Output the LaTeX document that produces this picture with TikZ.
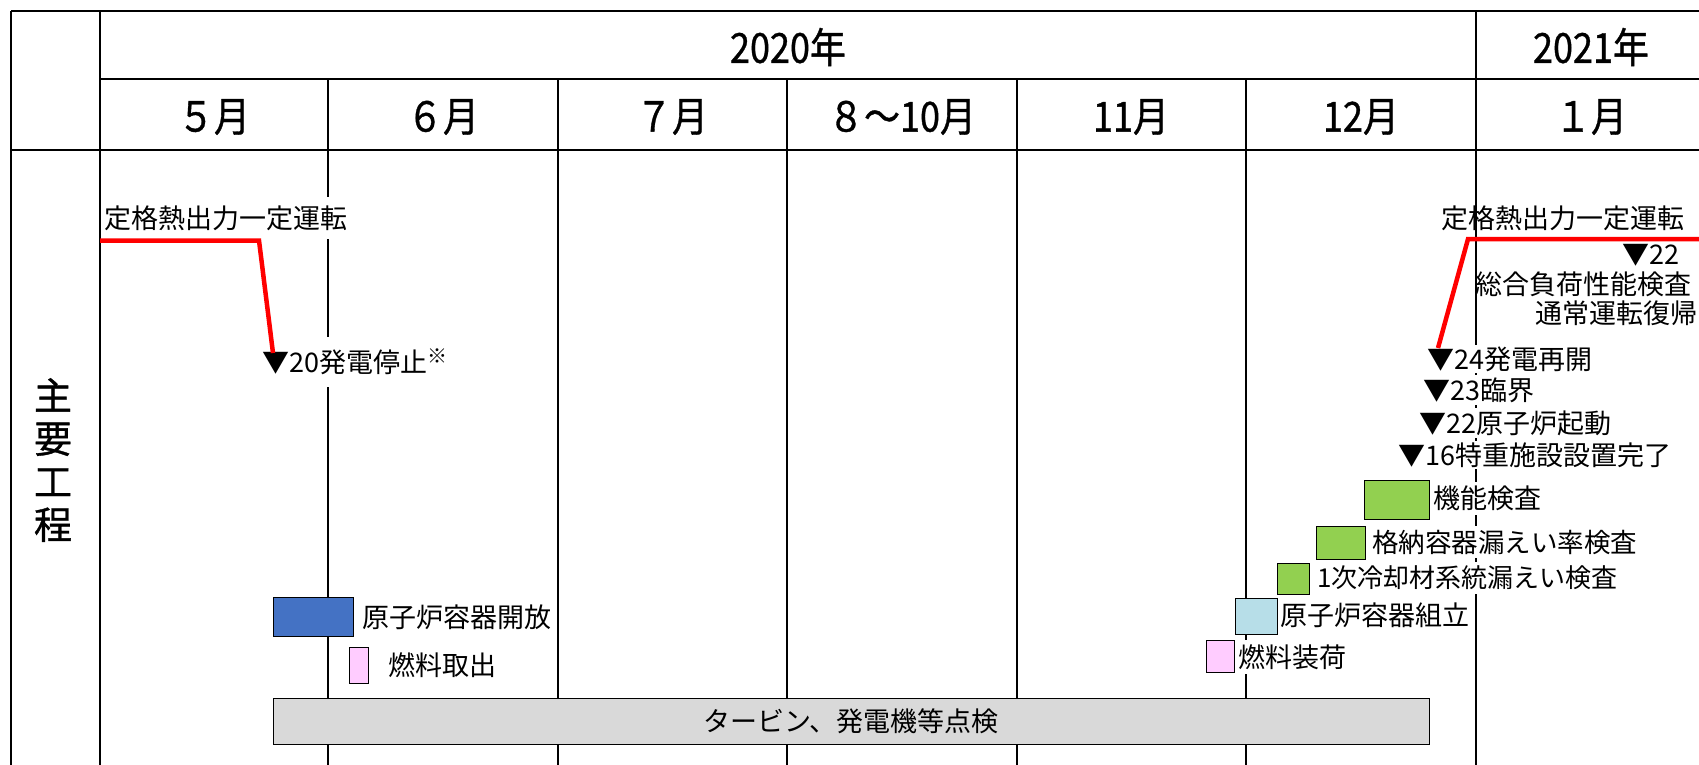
\documentclass[tikz,border=0pt]{standalone}
\usepackage{graphicx}
\usepackage{fontspec}
\setmainfont{Noto Sans CJK JP}
\newfontfamily\hdrfont[FakeBold=0.9]{Noto Sans CJK JP}
\newcommand{\hdtext}[1]{\scalebox{1}[1.15]{#1}}
\begin{document}
\begin{tikzpicture}[x=1pt,y=-1pt,
  gridline/.style={line width=2pt},
  frameline/.style={line width=2.6pt},
  lbl/.style={font=\fontsize{27}{30}\selectfont, anchor=west, inner xsep=2pt, inner ysep=4pt, fill=white},
  lblnf/.style={font=\fontsize{27}{30}\selectfont, inner sep=1pt},
  hdr/.style={font=\hdrfont\fontsize{36}{38}\selectfont},
  taskbox/.style={draw=black, line width=1pt, anchor=north west, inner sep=0pt},
  redline/.style={draw={rgb,255:red,255;green,0;blue,0}, line width=4.5pt, line join=miter}]
\definecolor{cblue}{HTML}{4472C4}
\definecolor{cpink}{HTML}{FFCCFF}
\definecolor{cgray}{HTML}{D9D9D9}
\definecolor{clblue}{HTML}{B7DEE8}
\definecolor{cgreen}{HTML}{92D050}
\useasboundingbox (0,0) rectangle (1699,765);
\begin{scope}
\clip (0,0) rectangle (1699,765);
% grid
\draw[frameline] (11,11) -- (1710,11);
\draw[frameline] (11,11) -- (11,770);
\draw[frameline] (100,11) -- (100,770);
\draw[frameline] (100,79) -- (1710,79);
\draw[frameline] (11,150) -- (1710,150);
\draw[gridline] (1476,11) -- (1476,770);
\foreach \x in {328,557.6,787.2,1016.8,1246.4} \draw[gridline] (\x,79) -- (\x,770);
% headers
\node[hdr] (y2020) at (788,47) {\hdtext{2020年}};
\node[hdr] (y2021) at (1591,47) {\hdtext{2021年}};
\node[hdr] (m5) at (214,117) {\hdtext{５月}};
\node[hdr] (m6) at (443,117) {\hdtext{６月}};
\node[hdr] (m7) at (672,117) {\hdtext{７月}};
\node[hdr] (m8) at (902,117) {\hdtext{８～10月}};
\node[hdr] (m11) at (1131,117) {\hdtext{11月}};
\node[hdr] (m12) at (1361,117) {\hdtext{12月}};
\node[hdr] (m1) at (1591,117) {\hdtext{１月}};
\node[font=\hdrfont\fontsize{38}{43}\selectfont, align=center] (main) at (53,460) {主\\要\\工\\程};
% boxes
\node[taskbox, fill=cblue, minimum width=80pt, minimum height=39pt] (open) at (273,597) {};
\node[taskbox, fill=cpink, minimum width=19pt, minimum height=36pt] (unload) at (349,647) {};
\node[taskbox, fill=cgray, minimum width=1156pt, minimum height=46pt] (turb) at (273,698) {};
\node[taskbox, fill=cpink, minimum width=28pt, minimum height=32pt] (load) at (1206,640) {};
\node[taskbox, fill=clblue, minimum width=42pt, minimum height=36pt] (assem) at (1235,598) {};
\node[taskbox, fill=cgreen, minimum width=32pt, minimum height=31pt] (rcs) at (1277,563) {};
\node[taskbox, fill=cgreen, minimum width=49pt, minimum height=33pt] (cv) at (1316,526) {};
\node[taskbox, fill=cgreen, minimum width=65pt, minimum height=39pt] (func) at (1364,480) {};
% labels
\node[lbl] (lopen) at (360,617) {原子炉容器開放};
\node[lbl] (lunload) at (386,665) {燃料取出};
\node[lblnf] (lturb) at (851,721) {タービン、発電機等点検};
\node[lbl] (lload) at (1236,657) {燃料装荷};
\node[lbl] (lassem) at (1278,615) {原子炉容器組立};
\node[lbl, font=\fontsize{26}{30}\selectfont] (lrcs) at (1315,578) {1次冷却材系統漏えい検査};
\node[lbl, font=\fontsize{26.5}{30}\selectfont] (lcv) at (1370,542) {格納容器漏えい率検査};
\node[lbl] (lfunc) at (1431,498) {機能検査};
\node[lbl, inner ysep=8pt] (lrated1) at (102,218) {定格熱出力一定運転};
\node[lbl, inner ysep=12pt] (lstop) at (260,362) {▼20発電停止{\fontsize{20}{20}\selectfont\raisebox{0.45em}{※}}};
\node[lblnf, anchor=west] (lrated2) at (1440,218) {定格熱出力一定運転};
\node[lblnf, anchor=west] (l22a) at (1621,255) {▼22};
\node[lblnf, anchor=east] (lload2) at (1693,284) {総合負荷性能検査};
\node[lblnf, anchor=east] (lnorm) at (1699,313) {通常運転復帰};
\node[lbl, inner ysep=2pt] (l24) at (1425,359) {▼24発電再開};
\node[lbl, inner ysep=2pt] (l23) at (1421,390) {▼23臨界};
\node[lbl, inner ysep=2pt] (l22b) at (1417,423) {▼22原子炉起動};
\node[lbl, inner ysep=2pt] (l16) at (1396,455) {▼16特重施設設置完了};
% red lines
\coordinate (r1a) at (100,240.5);
\coordinate (r1b) at (259,240.5);
\coordinate (r1c) at (273,353);
\coordinate (r2a) at (1438,348);
\coordinate (r2b) at (1468,239);
\coordinate (r2c) at (1710,239);
\draw[redline] (r1a) -- (r1b) -- (r1c);
\draw[redline] (r2a) -- (r2b) -- (r2c);
\end{scope}
\end{tikzpicture}
\end{document}
